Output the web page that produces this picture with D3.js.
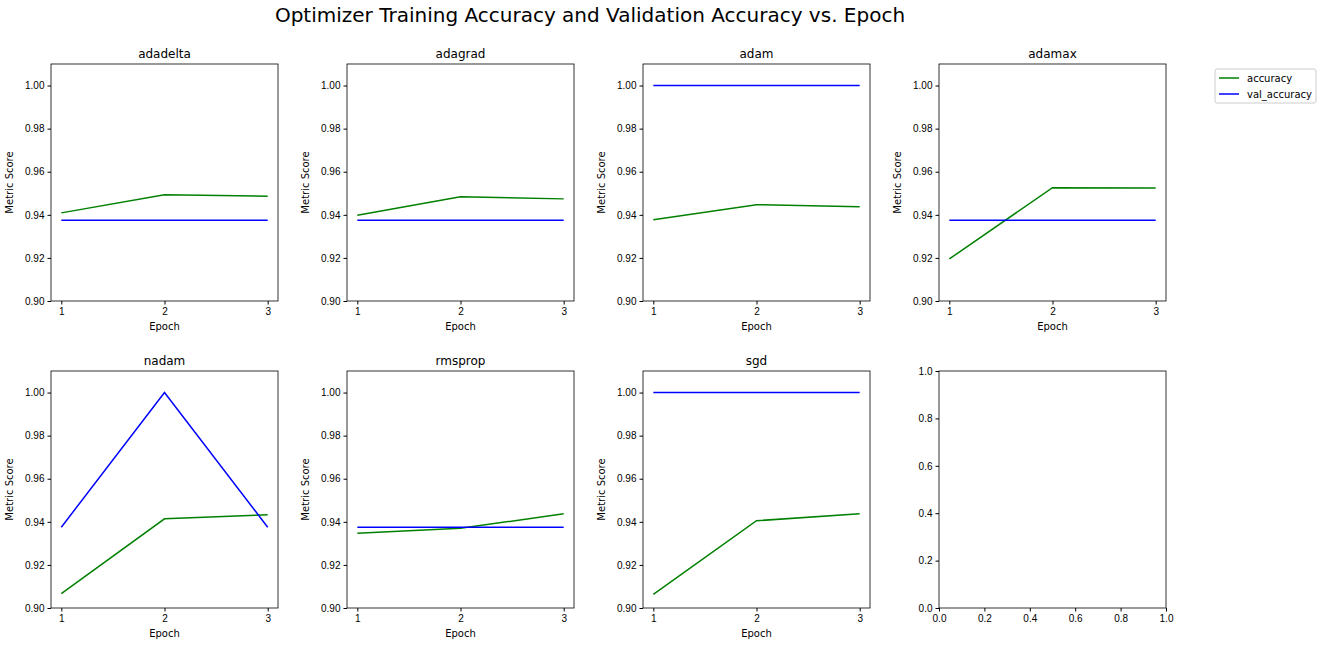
<!DOCTYPE html>
<html><head><meta charset="utf-8">
<script src="https://cdn.jsdelivr.net/npm/d3@7"></script>
<style>body{margin:0;background:#fff;font-family:"DejaVu Sans",sans-serif}</style>
</head><body><div id="chart"></div>
<script>
const optimizers = ["adadelta", "adagrad", "adam", "adamax", "nadam", "rmsprop", "sgd"];
const epochs = [1, 2, 3];
const accuracy = {
    adadelta: [0.9409, 0.9493, 0.9486],
    adagrad: [0.9398, 0.9484, 0.9474],
    adam: [0.9377, 0.9447, 0.9437],
    adamax: [0.9195, 0.9526, 0.9524],
    nadam: [0.9067, 0.9414, 0.9433],
    rmsprop: [0.9347, 0.9370, 0.9437],
    sgd: [0.9063, 0.9405, 0.9437]
};
const valAccuracy = {
    adadelta: [0.9375, 0.9375, 0.9375],
    adagrad: [0.9375, 0.9375, 0.9375],
    adam: [1.0, 1.0, 1.0],
    adamax: [0.9375, 0.9375, 0.9375],
    nadam: [0.9375, 1.0, 0.9375],
    rmsprop: [0.9375, 0.9375, 0.9375],
    sgd: [1.0, 1.0, 1.0]
};
const yTicks = [0.90, 0.92, 0.94, 0.96, 0.98, 1.00];
const emptyTicks = [0, 0.2, 0.4, 0.6, 0.8, 1.0];

const width = 1322, height = 646;
const colX = [51, 347, 643, 939], pw = 227;
const rowY = [64, 371], ph = 237;

const svg = d3.select("#chart").append("svg").attr("width", width).attr("height", height);

svg.append("text").attr("x", 590).attr("y", 22).attr("text-anchor", "middle")
    .attr("font-size", 20).text("Optimizer Training Accuracy and Validation Accuracy vs. Epoch");

function styleAxis(g) {
    g.selectAll("text").attr("font-size", 10).attr("fill", "#000");
    g.selectAll("line").attr("stroke", "#000");
    g.select(".domain").remove();
}

for (let i = 0; i < 8; i++) {
    const x0 = colX[i % 4], y0 = rowY[Math.floor(i / 4)];
    const g = svg.append("g").attr("transform", `translate(${x0},${y0})`);
    const name = optimizers[i];
    let x, y;
    if (name) {
        x = d3.scaleLinear().domain([0.9, 3.1]).range([0, pw]);
        y = d3.scaleLinear().domain([0.9, 1.01]).range([ph, 0]);
        g.append("g").attr("transform", `translate(0,${ph})`)
            .call(d3.axisBottom(x).tickValues(epochs).tickSize(3.5).tickFormat(d3.format("d"))).call(styleAxis);
        g.append("g").call(d3.axisLeft(y).tickValues(yTicks).tickSize(3.5).tickFormat(d3.format(".2f"))).call(styleAxis);
        const line = d3.line().x((d, j) => x(epochs[j])).y(d => y(d));
        g.append("path").attr("d", line(accuracy[name])).attr("fill", "none").attr("stroke", "green").attr("stroke-width", 1.5);
        g.append("path").attr("d", line(valAccuracy[name])).attr("fill", "none").attr("stroke", "blue").attr("stroke-width", 1.5);
        g.append("text").attr("x", pw / 2).attr("y", -6).attr("text-anchor", "middle").attr("font-size", 12).text(name);
        g.append("text").attr("x", pw / 2).attr("y", ph + 29).attr("text-anchor", "middle").attr("font-size", 10).text("Epoch");
        g.append("text").attr("transform", `translate(-38,${ph / 2}) rotate(-90)`).attr("text-anchor", "middle")
            .attr("font-size", 10).text("Metric Score");
    } else {
        x = d3.scaleLinear().domain([0, 1]).range([0, pw]);
        y = d3.scaleLinear().domain([0, 1]).range([ph, 0]);
        g.append("g").attr("transform", `translate(0,${ph})`)
            .call(d3.axisBottom(x).tickValues(emptyTicks).tickSize(3.5).tickFormat(d3.format(".1f"))).call(styleAxis);
        g.append("g").call(d3.axisLeft(y).tickValues(emptyTicks).tickSize(3.5).tickFormat(d3.format(".1f"))).call(styleAxis);
    }
    g.append("rect").attr("width", pw).attr("height", ph).attr("fill", "none").attr("stroke", "#000").attr("stroke-width", 0.8);
}

const legend = svg.append("g").attr("transform", "translate(1215,69)");
legend.append("rect").attr("width", 101).attr("height", 34).attr("rx", 2).attr("fill", "#fff").attr("stroke", "#ccc");
[["accuracy", "green"], ["val_accuracy", "blue"]].forEach(([label, c], i) => {
    legend.append("line").attr("x1", 4).attr("x2", 24).attr("y1", 9 + i * 16).attr("y2", 9 + i * 16)
        .attr("stroke", c).attr("stroke-width", 1.5);
    legend.append("text").attr("x", 32).attr("y", 12.5 + i * 16).attr("font-size", 10).text(label);
});
</script></body></html>
